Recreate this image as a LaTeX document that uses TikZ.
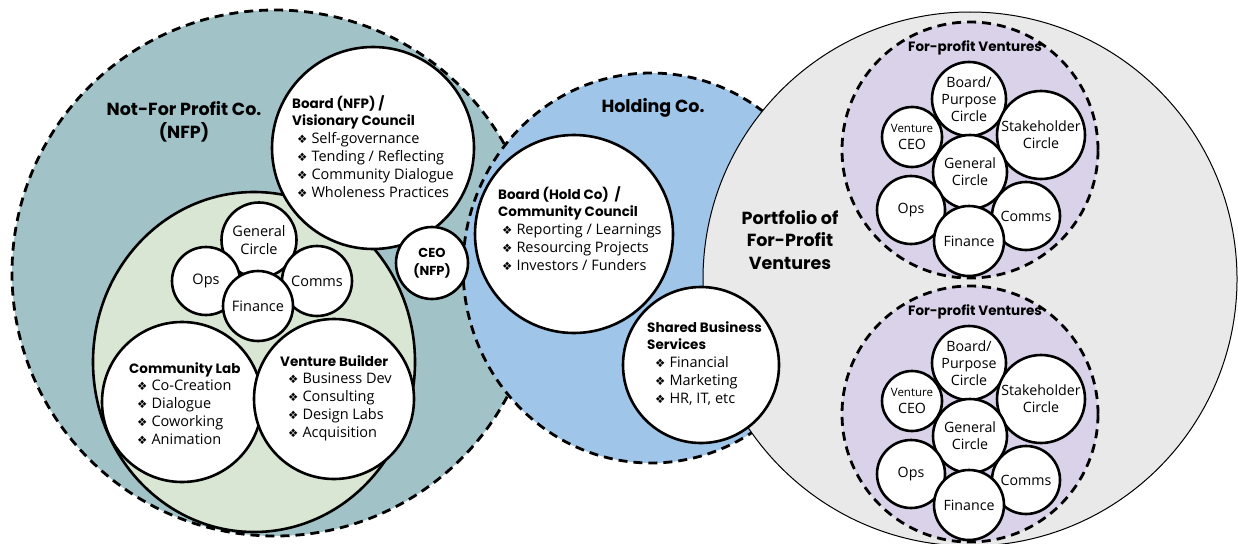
\documentclass[tikz,border=0pt]{standalone}
\usepackage{fontspec}
\usetikzlibrary{shapes.geometric}
\setmainfont{Open Sans}
\newfontfamily\headf{Poppins}
\newfontfamily\symf{DejaVu Sans}
\newcommand\bul{{\symf\fontsize{11.5}{11.5}\selectfont ❖}\hspace{4pt}}
\newcommand\hd[1]{{\headf\bfseries\fontsize{13.5}{17.8}\selectfont #1}}
\definecolor{nfpteal}{HTML}{A1C3C8}
\definecolor{opsgreen}{HTML}{D9E6D4}
\definecolor{holdblue}{HTML}{9FC5E8}
\definecolor{portgrey}{HTML}{E9E9E9}
\definecolor{ventpurple}{HTML}{D9D2E9}
\tikzset{
  ring/.style={circle, draw=black, line width=2.6pt, fill=white, inner sep=0pt, minimum size=#1},
  dashring/.style={circle, draw=black, line width=2.8pt, dash pattern=on 9pt off 6pt, inner sep=0pt, minimum size=#1},
  bigtitle/.style={font=\headf\bfseries\fontsize{17.5}{22.5}\selectfont, align=center},
  smalltitle/.style={font=\headf\bfseries\fontsize{13.5}{16}\selectfont},
  listtext/.style={font=\fontsize{14.5}{17.8}\selectfont, align=left, anchor=north west, inner sep=0pt},
  celltext/.style={font=\fontsize{14.2}{17}\selectfont, align=center, inner sep=0pt}
}
\begin{document}
\begin{tikzpicture}[x=1pt,y=-1pt]
\useasboundingbox (0,0) rectangle (1238,543);

% Not-for-profit company
\node[dashring=526, fill=nfpteal] (nfp) at (275,273) {};
% operations area inside the NFP
\node[ellipse, draw=black, line width=2.6pt, fill=opsgreen, minimum width=322, minimum height=340, inner sep=0pt] (opsarea) at (254,362) {};
% holding company
\node[ellipse, draw=black, line width=2.8pt, dash pattern=on 9pt off 6pt, fill=holdblue, minimum width=376, minimum height=390, inner sep=0pt] (hold) at (651,268) {};
% portfolio of ventures
\node[circle, draw=black, line width=1pt, fill=portgrey, minimum size=534, inner sep=0pt] (port) at (970,279) {};

% titles
\node[bigtitle] (nfptitle) at (184,122) {Not-For Profit Co.\\(NFP)};
\node[bigtitle] (holdtitle) at (653,108) {Holding Co.};
\node[bigtitle] (porttitle) at (790,240) {Portfolio of\\For-Profit\\Ventures};

% NFP board
\node[ring=202] (nfpboard) at (373,148) {};
\node[listtext] (nfpboardtxt) at (292,95) {\hd{Board (NFP) /}\\
  \hd{Visionary Council}\\
  \hspace{5pt}\bul Self-governance\\
  \hspace{5pt}\bul Tending / Reflecting\\
  \hspace{5pt}\bul Community Dialogue\\
  \hspace{5pt}\bul Wholeness Practices};

% NFP CEO
\node[ring=72, font=\headf\bfseries\fontsize{13}{17.5}\selectfont, align=center] (nfpceo) at (432,263) {CEO\\(NFP)};

% NFP working circles
\node[ring=75, font=\fontsize{14.5}{17.5}\selectfont, align=center] (nfpgen) at (259,240) {General\\Circle};
\node[ring=68, font=\fontsize{14.5}{17}\selectfont] (nfpops) at (206,281) {Ops};
\node[ring=70, font=\fontsize{14.5}{17}\selectfont] (nfpcomms) at (317,281) {Comms};
\node[ring=70, font=\fontsize{14.5}{17}\selectfont] (nfpfin) at (258,306) {Finance};

% community lab and venture builder
\node[ring=160] (lab) at (182,402) {};
\node[listtext] (labtxt) at (129,362) {\hd{Community Lab}\\
  \hspace{8pt}\bul Co-Creation\\
  \hspace{8pt}\bul Dialogue\\
  \hspace{8pt}\bul Coworking\\
  \hspace{8pt}\bul Animation};
\node[ring=160] (builder) at (334,399) {};
\node[listtext] (buildertxt) at (280,355) {\hd{Venture Builder}\\
  \hspace{8pt}\bul Business Dev\\
  \hspace{8pt}\bul Consulting\\
  \hspace{8pt}\bul Design Labs\\
  \hspace{8pt}\bul Acquisition};

% holding company board
\node[ring=198] (holdboard) at (574,234) {};
\node[listtext] (holdboardtxt) at (498,186) {\hd{Board (Hold Co)\ \ /}\\
  \hd{Community Council}\\
  \hspace{4pt}\bul Reporting / Learnings\\
  \hspace{4pt}\bul Resourcing Projects\\
  \hspace{4pt}\bul Investors / Funders};

% shared services
\node[ring=156] (shared) at (701,365) {};
\node[listtext] (sharedtxt) at (647,321) {\hd{Shared Business}\\
  \hd{Services}\\
  \hspace{8pt}\bul Financial\\
  \hspace{8pt}\bul Marketing\\
  \hspace{8pt}\bul HR, IT, etc};

% the two for-profit ventures
\foreach \v/\cy in {va/150, vb/414} {
  \node[dashring=256, fill=ventpurple] (\v) at (970,\cy) {};
  \node[smalltitle] (\v-title) at (975,\cy-102) {For-profit Ventures};
  \node[ring=74, celltext] (\v-board) at (969,\cy-51) {Board/\\Purpose\\Circle};
  \node[ring=60, celltext] (\v-ceo) at (912,\cy-13) {{\fontsize{11.5}{14}\selectfont Venture}\\CEO};
  \node[ring=88, celltext] (\v-stake) at (1041,\cy-15) {Stakeholder\\Circle};
  \node[ring=74, celltext] (\v-gen) at (970,\cy+22) {General\\Circle};
  \node[ring=68, celltext] (\v-ops) at (911,\cy+60) {Ops};
  \node[ring=68, celltext] (\v-comms) at (1026,\cy+66) {Comms};
  \node[ring=70, celltext] (\v-fin) at (969,\cy+91) {Finance};
}
\end{tikzpicture}
\end{document}
